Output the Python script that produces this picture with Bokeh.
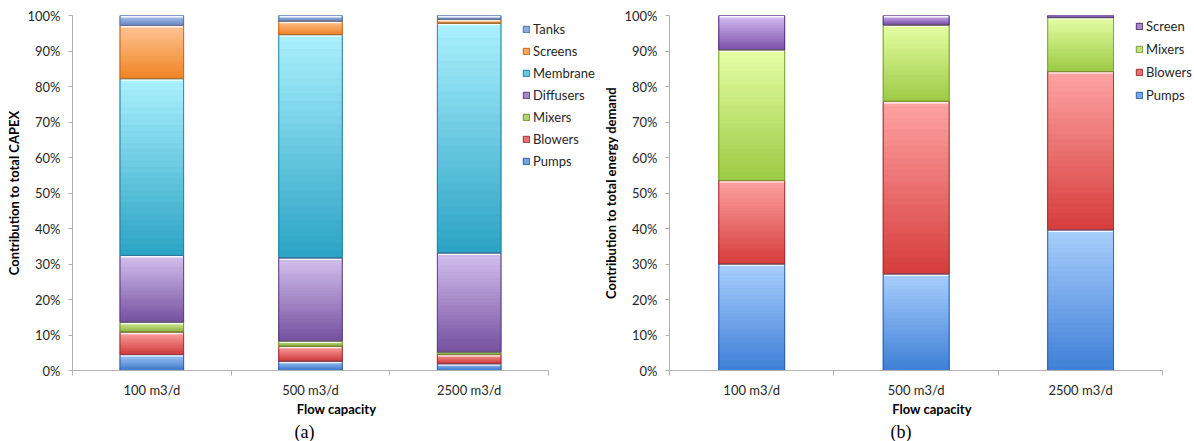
import numpy as np
from bokeh.plotting import figure
from bokeh.models import (ColumnDataSource, FixedTicker, PrintfTickFormatter,
                          Legend, LegendItem, Title, Range1d)
from bokeh.layouts import row
from bokeh.embed import file_html
from bokeh.resources import INLINE

capacities = ["100 m3/d", "500 m3/d", "2500 m3/d"]

# Share of total CAPEX per component (%), bottom to top of each stack
capex_components = ["Pumps", "Blowers", "Mixers", "Diffusers", "Membrane", "Screens", "Tanks"]
capex_pumps = [4.5, 2.6, 1.9]
capex_blowers = [6.3, 4.2, 2.6]
capex_mixers = [2.8, 1.5, 0.7]
capex_diffusers = [18.8, 23.4, 27.9]
capex_membrane = [49.8, 62.9, 64.7]
capex_screens = [15.0, 3.8, 1.1]
capex_tanks = [2.8, 1.6, 1.1]

# Share of total energy demand per component (%)
energy_components = ["Pumps", "Blowers", "Mixers", "Screen"]
energy_pumps = [30.0, 27.2, 39.6]
energy_blowers = [23.5, 48.6, 44.6]
energy_mixers = [36.8, 21.5, 15.2]
energy_screen = [9.7, 2.7, 0.6]

# (top colour, bottom colour, edge colour) of each component's shaded fill
capex_palette = [
    ("#a9ccfa", "#3f7bcb", "#2f5f9f"),   # Pumps
    ("#ffa9a9", "#d03c3c", "#9e3030"),   # Blowers
    ("#dcf5a0", "#8cb243", "#6f8e35"),   # Mixers
    ("#d4c2ee", "#7550a0", "#5a3c80"),   # Diffusers
    ("#abf1fe", "#2aa3c4", "#23819c"),   # Membrane
    ("#ffc698", "#f08424", "#c0661a"),   # Screens
    ("#b9cdf0", "#6a8cc8", "#4f6ea4"),   # Tanks
]
energy_palette = [
    ("#a9d0fd", "#3e7fd6", "#2c5ea6"),   # Pumps
    ("#ffa4a4", "#d53d3b", "#a02e2e"),   # Blowers
    ("#e6ffa6", "#9cca44", "#789c34"),   # Mixers
    ("#d8c2f6", "#7b4fa8", "#4f2f78"),   # Screen
]

FONT = "Lato"
HEIGHT = 441
BORDER_BOTTOM = 71


def hex_to_rgb(h):
    h = h.lstrip("#")
    return np.array([int(h[i:i + 2], 16) for i in (0, 2, 4)], dtype=float)


def blend(c1, c2, t):
    c = hex_to_rgb(c1) * (1 - t) + hex_to_rgb(c2) * t
    return "#%02x%02x%02x" % tuple(int(round(v)) for v in c)


def stacked_panel(components, series, palette, ylabel, tag, tag_offset,
                  width, border_left, border_top, axis_px):
    """Stacked 100% bars; the category axis covers axis_px pixels of the frame,
    the rest of the frame on the right holds the legend."""
    n_cat = len(capacities)
    xs = [i + 0.5 for i in range(n_cat)]
    bar_w = 0.4
    frame_w = width - border_left
    x_end = n_cat * frame_w / float(axis_px)

    p = figure(width=width, height=HEIGHT, output_backend="svg", toolbar_location=None,
               x_range=Range1d(0, x_end), y_range=Range1d(0, 100),
               min_border_left=border_left, min_border_right=0,
               min_border_top=border_top, min_border_bottom=BORDER_BOTTOM)
    p.outline_line_color = None
    p.xgrid.grid_line_color = None
    p.ygrid.grid_line_color = None
    p.background_fill_color = "white"
    p.border_fill_color = "white"

    frame_h = HEIGHT - border_top - BORDER_BOTTOM
    px = 100.0 / frame_h  # data units per screen pixel on y

    data = {"x": xs}
    for name, vals in zip(components, series):
        data[name] = vals
    src = ColumnDataSource(data)

    mids = [blend(t, b, 0.5) for t, b, e in palette]
    edges = [e for t, b, e in palette]
    base = p.vbar_stack(components, x="x", width=bar_w, source=src,
                        fill_color=mids, line_color=edges, line_width=1)

    # shaded fill: each segment is split into thin bands going light -> dark
    n_bands = 30
    bx, btop, bbot, bcol = [], [], [], []
    ox, otop, obot, ocol = [], [], [], []
    hx0, hx1, hy = [], [], []
    for i in range(n_cat):
        bottom = 0.0
        for k, vals in enumerate(series):
            v = vals[i]
            top = bottom + v
            c_top, c_bot, c_edge = palette[k]
            for j in range(n_bands):
                y1 = top - j * v / n_bands
                y0 = top - (j + 1) * v / n_bands
                bx.append(xs[i]); btop.append(y1); bbot.append(y0)
                bcol.append(blend(c_top, c_bot, (j + 0.5) / n_bands))
            ox.append(xs[i]); otop.append(top); obot.append(bottom); ocol.append(c_edge)
            if v / px > 3:
                hx0.append(xs[i] - bar_w / 2 + 0.004); hx1.append(xs[i] + bar_w / 2 - 0.004)
                hy.append(top - 1.3 * px)
            bottom = top

    p.vbar(x="x", top="top", bottom="bottom", width=bar_w,
           source=ColumnDataSource(dict(x=bx, top=btop, bottom=bbot, c=bcol)),
           fill_color="c", line_color="c", line_width=0.6)
    p.segment(x0="x0", x1="x1", y0="y", y1="y",
              source=ColumnDataSource(dict(x0=hx0, x1=hx1, y=hy)),
              line_color="white", line_width=1.4, line_alpha=0.85)
    p.vbar(x="x", top="top", bottom="bottom", width=bar_w,
           source=ColumnDataSource(dict(x=ox, top=otop, bottom=obot, c=ocol)),
           fill_alpha=0, line_color="c", line_width=1, line_alpha=0.85)

    # axes
    axis_grey = "#b0b0b0"
    xa = p.xaxis[0]
    xa.bounds = (0, n_cat)
    xa.ticker = FixedTicker(ticks=xs, minor_ticks=list(range(n_cat + 1)))
    xa.major_label_overrides = {x: lab for x, lab in zip(xs, capacities)}
    xa.major_tick_line_color = None
    xa.major_tick_out = 4
    xa.major_tick_in = 0
    xa.minor_tick_line_color = axis_grey
    xa.minor_tick_out = 5
    xa.minor_tick_in = 0
    xa.axis_line_color = axis_grey
    xa.major_label_standoff = 6
    xa.major_label_text_font = FONT
    xa.major_label_text_font_size = "13px"
    xa.major_label_text_color = "#262626"
    xa.axis_label = "Flow capacity"
    xa.axis_label_text_font = FONT
    xa.axis_label_text_font_style = "bold"
    xa.axis_label_text_font_size = "13px"
    xa.axis_label_text_color = "black"
    xa.axis_label_standoff = 0

    ya = p.yaxis[0]
    ya.ticker = FixedTicker(ticks=list(range(0, 101, 10)), minor_ticks=[])
    ya.formatter = PrintfTickFormatter(format="%d%%")
    ya.axis_line_color = axis_grey
    ya.major_tick_line_color = axis_grey
    ya.major_tick_out = 4
    ya.major_tick_in = 0
    ya.minor_tick_line_color = None
    ya.major_label_standoff = 8
    ya.major_label_text_font = FONT
    ya.major_label_text_font_size = "13px"
    ya.major_label_text_color = "#262626"
    ya.axis_label = ylabel
    ya.axis_label_text_font = FONT
    ya.axis_label_text_font_style = "bold"
    ya.axis_label_text_font_size = "13px"
    ya.axis_label_text_color = "black"
    ya.axis_label_standoff = 2

    # panel tag below the axis title, placed from the frame's left edge
    p.add_layout(Title(text=tag, align="left", text_font="Liberation Serif",
                       text_font_size="18px", text_font_style="normal",
                       text_color="black", standoff=0, offset=tag_offset),
                 "below")

    return p, base, frame_h


def add_legend(p, components, renderers, x_left, first_row_y, frame_top, frame_h, row_h):
    items = [LegendItem(label=c, renderers=[r]) for c, r in zip(components, renderers)][::-1]
    n = len(items)
    top_edge = first_row_y - row_h / 2.0
    y_bottom = frame_h - (top_edge - frame_top) - n * row_h
    leg = Legend(items=items, location=(x_left, y_bottom),
                 label_text_font=FONT, label_text_font_size="13px",
                 label_text_color="#262626",
                 glyph_width=8, glyph_height=8, label_standoff=3,
                 label_height=row_h, spacing=0, padding=0, margin=0,
                 border_line_color=None, background_fill_alpha=0)
    p.add_layout(leg)


capex_series = [capex_pumps, capex_blowers, capex_mixers, capex_diffusers,
                capex_membrane, capex_screens, capex_tanks]
energy_series = [energy_pumps, energy_blowers, energy_mixers, energy_screen]

pa, base_a, fh_a = stacked_panel(capex_components, capex_series, capex_palette,
                                 "Contribution to total CAPEX", "(a)", 222,
                                 width=600, border_left=72, border_top=15, axis_px=476)
add_legend(pa, capex_components, base_a, 450, 29, 15, fh_a, 22)

pb, base_b, fh_b = stacked_panel(energy_components, energy_series, energy_palette,
                                 "Contribution to total energy demand", "(b)", 221,
                                 width=594, border_left=63, border_top=13, axis_px=499)
add_legend(pb, energy_components, base_b, 466, 26, 13, fh_b, 23)

layout = row(pa, pb)
open("out.html", "w").write(file_html(layout, INLINE))
